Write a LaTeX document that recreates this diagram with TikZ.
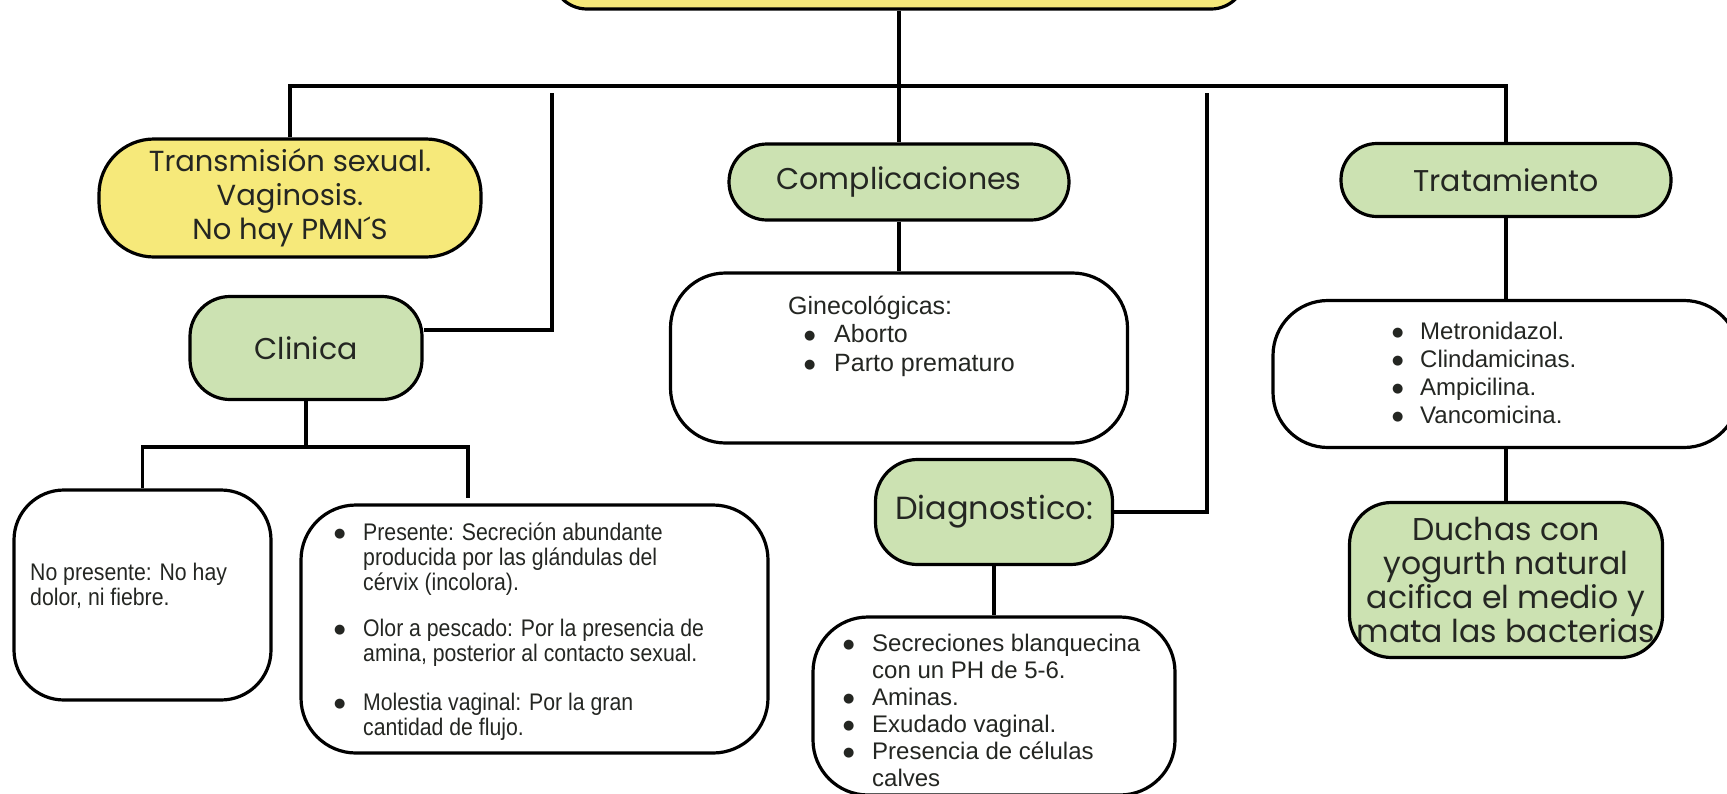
\documentclass[tikz,border=0pt]{standalone}
\usepackage{fontspec}
\setmainfont{Liberation Sans}
\newfontfamily\headfont{Poppins}
\newfontfamily\symfont{DejaVu Sans}
\newfontfamily\condfont[FakeStretch=0.885]{Liberation Sans}
\usepackage{array}
\definecolor{grn}{RGB}{204,226,178}
\definecolor{ylw}{RGB}{246,233,122}
\definecolor{txt}{RGB}{36,38,34}
\newcommand\bul{\raisebox{3pt}{\symfont\fontsize{13}{13}\selectfont ●}}
\tikzset{
  box/.style={draw=black, line width=3.2pt, rounded corners=#1, inner sep=0pt},
  head/.style={font=\headfont\fontsize{30}{34}\selectfont, text=txt, align=center},
  lst/.style={anchor=base west, inner sep=0pt, text=txt},
  conn/.style={draw=black, line width=3.2pt}
}
\begin{document}
\begin{tikzpicture}[x=1pt,y=-1pt]
\useasboundingbox (0,0) rectangle (1727,793);
\fill[white] (0,0) rectangle (1727,793);
\clip (0,0) rectangle (1727,793);

% top box (mostly cut off)
\node[box=35pt, fill=ylw, minimum width=694pt, minimum height=80pt] (top) at (899,-31) {};

% level 1
\node[box=55pt, fill=ylw, minimum width=382pt, minimum height=118pt, head, font=\headfont\fontsize{29}{34}\selectfont] (trans) at (290,198)
  {Transmisión sexual.\\Vaginosis.\\No hay PMN´S};
\node[box=38pt, fill=grn, minimum width=340pt, minimum height=76pt, head] (comp) at (899,182) {Complicaciones};
\node[box=36pt, fill=grn, minimum width=330pt, minimum height=73pt, head] (trat) at (1506,180) {Tratamiento};
\node[box=40pt, fill=grn, minimum width=232pt, minimum height=103pt, head] (cl) at (306,348) {Clinica};
\node[box=42pt, fill=grn, minimum width=237pt, minimum height=105pt, head, font=\headfont\fontsize{32}{34}\selectfont] (diag) at (994,512) {Diagnostico:};

% white boxes
\node[box=55pt, fill=white, minimum width=457pt, minimum height=170pt] (gin) at (899,358) {};
\node[box=55pt, fill=white, minimum width=466pt, minimum height=147pt] (met) at (1506,374) {};
\node[box=55pt, fill=white, minimum width=362pt, minimum height=178pt] (sec) at (994,706) {};
\node[box=50pt, fill=white, minimum width=257pt, minimum height=210pt] (np) at (142.5,595) {};
\node[box=55pt, fill=white, minimum width=467pt, minimum height=248pt] (pr) at (534.5,629) {};
\node[box=42pt, fill=grn, minimum width=313pt, minimum height=155pt, head, font=\headfont\fontsize{31.5}{34}\selectfont] (duch) at (1506,580)
  {Duchas con\\yogurth natural\\acifica el medio y\\mata las bacterias};

% connectors
\coordinate (busR) at (1506,86);
\draw[conn] (trans.north) |- (busR) -- (trat.north);
\draw[conn] (top.south) -- (comp.north);
\draw[conn] (comp.south) -- (gin.north);
\draw[conn] (trat.south) -- (met.north);
\draw[conn] (met.south) -- (duch.north);
\coordinate (b2top) at (552,93);
\coordinate (b2c) at (552,330);
\draw[conn] (b2top) -- (b2c) -- (cl.east |- b2c);
\coordinate (b4top) at (1207,93);
\draw[conn] (diag.east) -| (b4top);
\draw[conn] (diag.south) -- (sec.north);
\coordinate (clj) at (306,447);
\coordinate (prdrop) at (468,498);
\draw[conn] (cl.south) -- (clj);
\draw[conn] (np.north) |- (clj) -| (prdrop);

% texts
\node[lst, font=\condfont\fontsize{24}{25}\selectfont] (nptext) at (30,580)
  {\begin{tabular}[t]{@{}l@{}}No presente: No hay\\dolor, ni fiebre.\end{tabular}};
\node[lst, font=\condfont\fontsize{24}{24.5}\selectfont] (prtext) at (334,540)
  {\begin{tabular}[t]{@{}p{29pt}@{}l@{}}
  \bul & Presente: Secreción abundante\\
    & producida por las glándulas del\\
    & cérvix (incolora).\\[22pt]
  \bul & Olor a pescado: Por la presencia de\\
    & amina, posterior al contacto sexual.\\[24pt]
  \bul & Molestia vaginal: Por la gran\\
    & cantidad de flujo.
  \end{tabular}};
\node[lst, font=\fontsize{25}{28.5}\selectfont] (gintext) at (788,314)
  {\begin{tabular}[t]{@{}p{46pt}@{}l@{}}
  \multicolumn{2}{@{}l@{}}{Ginecológicas:}\\
  \hspace*{16pt}\bul & Aborto\\
  \hspace*{16pt}\bul & Parto prematuro
  \end{tabular}};
\node[lst, font=\fontsize{24}{28.3}\selectfont] (mettext) at (1392,339)
  {\begin{tabular}[t]{@{}p{28pt}@{}l@{}}
  \bul & Metronidazol.\\
  \bul & Clindamicinas.\\
  \bul & Ampicilina.\\
  \bul & Vancomicina.
  \end{tabular}};
\node[lst, font=\fontsize{24}{27}\selectfont] (sectext) at (843,651)
  {\begin{tabular}[t]{@{}p{29pt}@{}l@{}}
  \bul & Secreciones blanquecina\\
    & con un PH de 5-6.\\
  \bul & Aminas.\\
  \bul & Exudado vaginal.\\
  \bul & Presencia de células\\
    & calves
  \end{tabular}};
\end{tikzpicture}
\end{document}
